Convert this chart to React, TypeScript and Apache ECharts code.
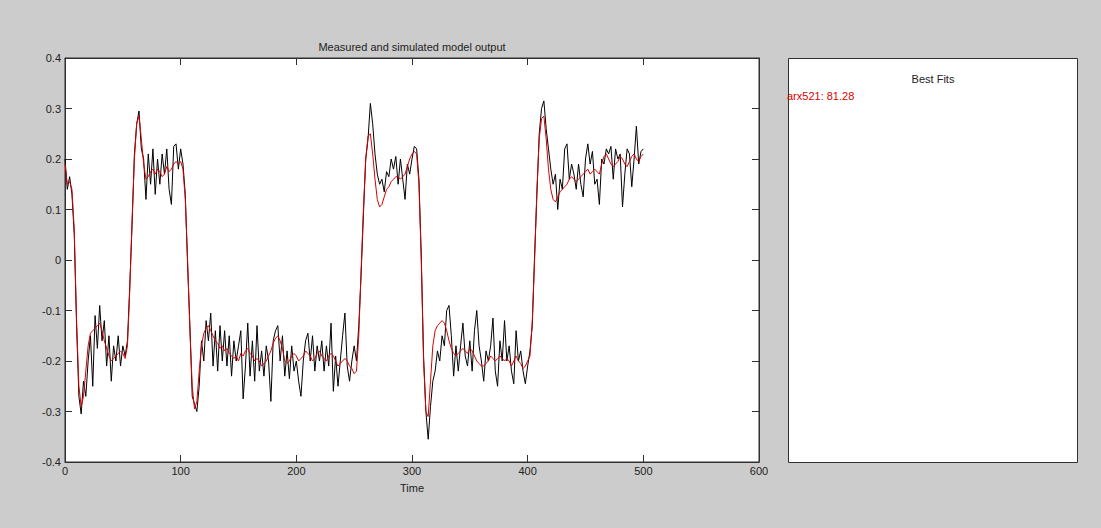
import React, { useEffect, useRef } from "react";
import * as echarts from "echarts";

// Sample spacing of the recorded / simulated traces (time units)
const SAMPLE_STEP = 2;

// Measured output (black), one value every SAMPLE_STEP time units from t = 0 to 500
const measured: number[] = [
  0.2, 0.14, 0.165, 0.13, 0.05, -0.13, -0.27, -0.305, -0.24, -0.27,
  -0.2, -0.15, -0.25, -0.11, -0.175, -0.09, -0.16, -0.12, -0.21, -0.15,
  -0.24, -0.17, -0.2, -0.15, -0.21, -0.17, -0.19, -0.16, -0.05, 0.07,
  0.21, 0.27, 0.295, 0.22, 0.2, 0.12, 0.21, 0.15, 0.22, 0.13,
  0.2, 0.15, 0.21, 0.17, 0.22, 0.14, 0.11, 0.225, 0.23, 0.18,
  0.22, 0.19, 0.13, -0.01, -0.13, -0.27, -0.285, -0.3, -0.25, -0.16,
  -0.2, -0.12, -0.16, -0.105, -0.21, -0.14, -0.22, -0.13, -0.2, -0.14,
  -0.21, -0.15, -0.23, -0.16, -0.2, -0.17, -0.14, -0.275, -0.21, -0.125,
  -0.23, -0.16, -0.24, -0.13, -0.22, -0.18, -0.23, -0.17, -0.2, -0.28,
  -0.16, -0.14, -0.13, -0.2, -0.15, -0.23, -0.18, -0.235, -0.17, -0.22,
  -0.2, -0.24, -0.27, -0.2, -0.16, -0.145, -0.2, -0.15, -0.22, -0.17,
  -0.2, -0.16, -0.22, -0.17, -0.21, -0.125, -0.26, -0.19, -0.25, -0.2,
  -0.15, -0.105, -0.21, -0.24, -0.2, -0.17, -0.2, -0.13, -0.03, 0.09,
  0.2, 0.24, 0.31, 0.27, 0.21, 0.17, 0.15, 0.16, 0.135, 0.175,
  0.165, 0.2, 0.18, 0.205, 0.15, 0.2, 0.16, 0.12, 0.19, 0.17,
  0.2, 0.225, 0.22, 0.16, 0.01, -0.19, -0.3, -0.355, -0.29, -0.24,
  -0.22, -0.18, -0.2, -0.15, -0.17, -0.1, -0.09, -0.15, -0.23, -0.17,
  -0.22, -0.17, -0.125, -0.19, -0.21, -0.16, -0.22, -0.14, -0.1, -0.17,
  -0.2, -0.24, -0.18, -0.2, -0.17, -0.115, -0.22, -0.25, -0.16, -0.2,
  -0.12, -0.2, -0.17, -0.22, -0.245, -0.14, -0.2, -0.18, -0.22, -0.245,
  -0.21, -0.18, -0.13, 0.01, 0.13, 0.25, 0.3, 0.315, 0.26, 0.22,
  0.18, 0.15, 0.17, 0.1, 0.16, 0.14, 0.22, 0.23, 0.16, 0.19,
  0.17, 0.14, 0.19, 0.15, 0.125, 0.2, 0.23, 0.19, 0.215, 0.15,
  0.16, 0.11, 0.2, 0.19, 0.22, 0.21, 0.225, 0.16, 0.22, 0.2,
  0.21, 0.105, 0.17, 0.22, 0.21, 0.145, 0.2, 0.265, 0.19, 0.215,
  0.22,
];

// Simulated model output (red), same sampling
const simulated: number[] = [
  0.19, 0.15, 0.155, 0.14, 0.06, -0.12, -0.25, -0.29, -0.27, -0.22,
  -0.17, -0.145, -0.14, -0.135, -0.13, -0.125, -0.14, -0.16, -0.175, -0.19,
  -0.2, -0.195, -0.19, -0.185, -0.18, -0.185, -0.195, -0.17, -0.06, 0.08,
  0.2, 0.27, 0.285, 0.24, 0.19, 0.16, 0.165, 0.175, 0.18, 0.17,
  0.18, 0.175, 0.165, 0.17, 0.185, 0.175, 0.18, 0.19, 0.195, 0.19,
  0.195, 0.18, 0.12, 0.0, -0.14, -0.25, -0.295, -0.28, -0.22, -0.17,
  -0.145, -0.135, -0.13, -0.14, -0.15, -0.16, -0.165, -0.175, -0.17, -0.18,
  -0.175, -0.185, -0.19, -0.195, -0.19, -0.2, -0.185, -0.19, -0.18, -0.175,
  -0.185, -0.19, -0.2, -0.195, -0.2, -0.21, -0.205, -0.2, -0.19, -0.18,
  -0.165, -0.155, -0.15, -0.16, -0.175, -0.2, -0.205, -0.2, -0.19, -0.185,
  -0.19, -0.2, -0.195, -0.19, -0.18, -0.185, -0.19, -0.2, -0.195, -0.185,
  -0.18, -0.19, -0.195, -0.2, -0.19, -0.185, -0.19, -0.2, -0.21, -0.205,
  -0.2, -0.195, -0.2, -0.21, -0.215, -0.225, -0.22, -0.15, -0.02, 0.1,
  0.2, 0.245, 0.25, 0.21, 0.16, 0.12, 0.105, 0.11, 0.125, 0.14,
  0.145, 0.155, 0.16, 0.165, 0.165, 0.16, 0.165, 0.17, 0.185, 0.2,
  0.21, 0.215, 0.21, 0.15, 0.0, -0.2, -0.3, -0.31, -0.24, -0.17,
  -0.14, -0.13, -0.125, -0.12, -0.125, -0.14, -0.16, -0.175, -0.185, -0.19,
  -0.185, -0.18, -0.175, -0.18, -0.185, -0.175, -0.18, -0.19, -0.2, -0.205,
  -0.21, -0.21, -0.205, -0.2, -0.19, -0.195, -0.2, -0.195, -0.19, -0.195,
  -0.2, -0.195, -0.2, -0.21, -0.2, -0.19, -0.2, -0.205, -0.215, -0.21,
  -0.2, -0.19, -0.12, 0.0, 0.14, 0.24, 0.28, 0.285, 0.24, 0.18,
  0.14, 0.12, 0.115, 0.125, 0.135, 0.14, 0.145, 0.15, 0.16, 0.165,
  0.16, 0.155, 0.16, 0.165, 0.17, 0.175, 0.18, 0.17, 0.175, 0.18,
  0.175, 0.17, 0.19, 0.205, 0.21, 0.2, 0.19, 0.185, 0.19, 0.195,
  0.205, 0.2, 0.19, 0.185, 0.195, 0.205, 0.21, 0.2, 0.195, 0.205,
  0.21,
];

const xTicks = { min: 0, max: 600, interval: 100 };
const yTicks = { min: -0.4, max: 0.4, interval: 0.1 };

const chartTitle = "Measured and simulated model output";
const xName = "Time";
const fitsTitle = "Best Fits";
const fitLabel = "arx521: 81.28";

const FONT = "Arial, 'Liberation Sans', Helvetica, sans-serif";
const TEXT = "#222222";
const AXIS = "#303030";
const RED = "#d80000";

export default function App() {
  const ref = useRef<HTMLDivElement>(null);

  useEffect(() => {
    if (!ref.current) return;
    const chart = echarts.init(ref.current, null, { renderer: "svg" });

    const toPairs = (vals: number[]) => vals.map((v, i) => [i * SAMPLE_STEP, v]);
    const fmtY = (v: number) => String(Number(v.toFixed(1)));

    const tickStyle = { show: true, inside: true, length: 7, lineStyle: { color: AXIS } };
    const lineStyle = { show: true, onZero: false, lineStyle: { color: AXIS, width: 1 } };

    chart.setOption({
      animation: false,
      backgroundColor: "#cccccc",
      grid: {
        left: 65,
        top: 58,
        right: 342,
        bottom: 66,
        show: true,
        backgroundColor: "#ffffff",
        borderColor: AXIS,
        borderWidth: 1,
      },
      xAxis: [
        {
          type: "value",
          ...xTicks,
          position: "bottom",
          name: xName,
          nameLocation: "middle",
          nameGap: 20,
          nameTextStyle: { color: TEXT, fontFamily: FONT, fontSize: 11 },
          axisLine: lineStyle,
          axisTick: tickStyle,
          axisLabel: { color: TEXT, fontFamily: FONT, fontSize: 11, margin: 3 },
          splitLine: { show: false },
        },
        {
          type: "value",
          ...xTicks,
          position: "top",
          axisLine: lineStyle,
          axisTick: tickStyle,
          axisLabel: { show: false },
          splitLine: { show: false },
        },
      ],
      yAxis: [
        {
          type: "value",
          ...yTicks,
          position: "left",
          axisLine: lineStyle,
          axisTick: tickStyle,
          axisLabel: {
            color: TEXT,
            fontFamily: FONT,
            fontSize: 11,
            margin: 4,
            formatter: fmtY,
          },
          splitLine: { show: false },
        },
        {
          type: "value",
          ...yTicks,
          position: "right",
          axisLine: lineStyle,
          axisTick: tickStyle,
          axisLabel: { show: false },
          splitLine: { show: false },
        },
      ],
      series: [
        {
          name: "Measured",
          type: "line",
          data: toPairs(measured),
          showSymbol: false,
          lineStyle: { color: "#000000", width: 1 },
          z: 2,
        },
        {
          name: "arx521",
          type: "line",
          data: toPairs(simulated),
          showSymbol: false,
          lineStyle: { color: RED, width: 1 },
          z: 3,
        },
      ],
      graphic: [
        {
          type: "text",
          x: 412,
          y: 47,
          style: {
            text: chartTitle,
            align: "center",
            verticalAlign: "middle",
            fill: TEXT,
            font: `11px ${FONT}`,
          },
        },
        {
          type: "rect",
          shape: { x: 788.5, y: 58.5, width: 289, height: 404 },
          style: { fill: "#ffffff", stroke: AXIS, lineWidth: 1 },
        },
        {
          type: "text",
          x: 933,
          y: 79,
          style: {
            text: fitsTitle,
            align: "center",
            verticalAlign: "middle",
            fill: TEXT,
            font: `11px ${FONT}`,
          },
        },
        {
          type: "text",
          x: 787,
          y: 96,
          style: {
            text: fitLabel,
            align: "left",
            verticalAlign: "middle",
            fill: RED,
            font: `11px ${FONT}`,
          },
        },
      ],
    });

    return () => chart.dispose();
  }, []);

  return (
    <div
      ref={ref}
      style={{ position: "fixed", left: 0, top: 0, width: 1101, height: 528 }}
    />
  );
}
